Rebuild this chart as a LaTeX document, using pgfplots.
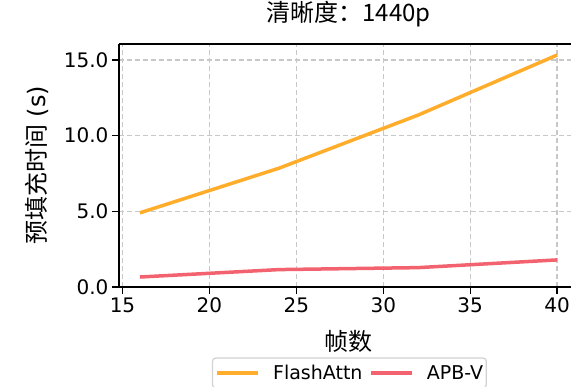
\documentclass[border=0pt]{standalone}
\usepackage{fontspec}
\setmainfont{DejaVu Sans}
\newfontfamily\cjk{Noto Sans CJK SC}
\usepackage{pgfplots}
\pgfplotsset{compat=1.18}

\definecolor{flashcol}{HTML}{FFAD2A}
\definecolor{apbcol}{HTML}{F2636F}
\definecolor{gridcol}{HTML}{C8C8C8}

\begin{document}
\begin{tikzpicture}
% visible window; the right end of the frame lies outside it
\useasboundingbox (-119pt,-100pt) rectangle (452pt,287pt);
\clip (-119pt,-100pt) rectangle (452pt,287pt);
\begin{axis}[
  at={(0pt,0pt)}, anchor=south west,
  scale only axis,
  width=459pt, height=243pt,
  xmin=14.8, xmax=41.2,
  ymin=0, ymax=16.06,
  axis x line*=box, axis y line*=left,
  xtick={15,20,25,30,35,40},
  ytick={0,5,10,15},
  yticklabel style={/pgf/number format/.cd, fixed, fixed zerofill, precision=1},
  /pgf/number format/assume math mode=true,
  tick label style={font=\fontsize{20}{22}\selectfont},
  tick align=outside,
  xtick pos=lower, ytick pos=lower,
  major tick length=7pt,
  every tick/.style={black, line width=1.4pt},
  axis line style={black, line width=1.5pt},
  grid=major,
  major grid style={gridcol, line width=1.3pt, dash pattern=on 5pt off 3pt},
  title={\cjk 清晰度：1440p},
  title style={font=\fontsize{24}{26}\selectfont, at={(axis description cs:0.5,1)}, anchor=base, yshift=16pt},
  xlabel={\cjk 帧数},
  xlabel style={font=\fontsize{24}{26}\selectfont, at={(axis description cs:0.5,-0.222)}, anchor=center},
  ylabel={{\cjk 预填充时间} (s)},
  ylabel style={font=\fontsize{24}{26}\selectfont, at={(axis description cs:-0.1786,0.5)}, anchor=center},
  legend columns=2,
  legend cell align=left,
  legend image code/.code={\draw[#1] (0pt,0pt) -- (41pt,0pt);},
  legend style={
    at={(axis description cs:0.2026,-0.290)}, anchor=north west,
    draw=gray!35, line width=1.2pt, rounded corners=3pt,
    font=\fontsize{19}{21}\selectfont,
    nodes={inner xsep=0pt, inner ysep=2pt},
    inner xsep=3pt, inner ysep=5pt,
    /tikz/every odd column/.append style={column sep=13pt},
    /tikz/every even column/.append style={column sep=7pt},
  },
]
\addplot[flashcol, line width=3.5pt] coordinates {
  (16,4.90) (24,7.85) (32,11.36) (40,15.33)
};
\addlegendentry{FlashAttn}
\addplot[apbcol, line width=3.5pt] coordinates {
  (16,0.66) (24,1.15) (32,1.28) (40,1.79)
};
\addlegendentry{APB-V}
\end{axis}
\end{tikzpicture}
\end{document}
